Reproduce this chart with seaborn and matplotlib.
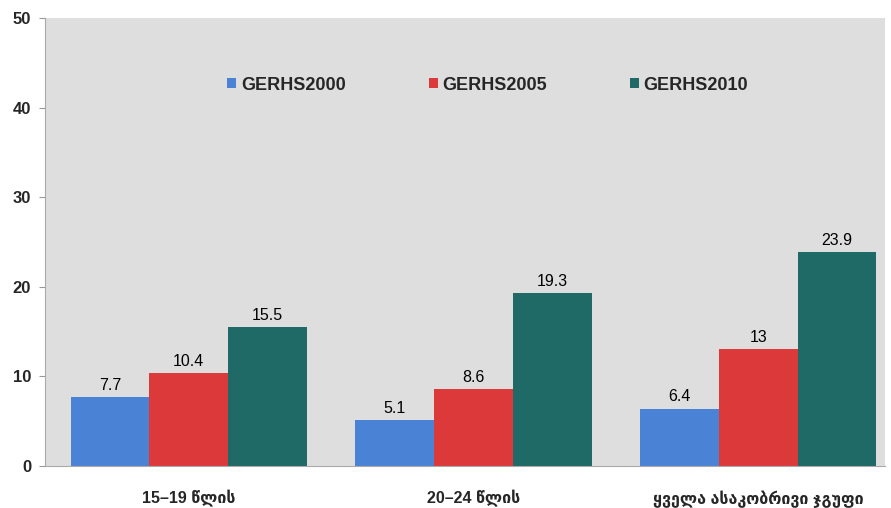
import pandas as pd
import seaborn as sns
import matplotlib.pyplot as plt

groups = ["15–19 წლის", "20–24 წლის", "ყველა ასაკობრივი ჯგუფი"]
series = ["GERHS2000", "GERHS2005", "GERHS2010"]
v2000 = [7.7, 5.1, 6.4]
v2005 = [10.4, 8.6, 13]
v2010 = [15.5, 19.3, 23.9]
colors = ["#4a82d6", "#dc3a3a", "#1f6a66"]

df = pd.DataFrame({
    "group": groups * 3,
    "survey": [s for s in series for _ in groups],
    "value": v2000 + v2005 + v2010,
})

sns.set_style("white")
plt.rcParams['font.family'] = ['Liberation Sans', 'DejaVu Sans']

fig = plt.figure(figsize=(8.91, 5.08), dpi=100)
ax = fig.add_axes([0.0505, 0.0827, 0.9428, 0.882])
ax.set_facecolor("#dedede")

sns.barplot(data=df, x="group", y="value", hue="survey", palette=colors,
            width=0.83, gap=0, saturation=1, edgecolor="none", ax=ax)

for cont in ax.containers:
    labels = [f"{v:g}" for v in cont.datavalues]
    ax.bar_label(cont, labels=labels, padding=3, fontsize=11.5, color="black")

ax.set_ylim(0, 50)
ax.set_xlim(-0.505, 2.445)
ax.set_yticks([0, 10, 20, 30, 40, 50])
ax.set_xlabel("")
ax.set_ylabel("")
for lab in ax.get_yticklabels():
    lab.set_fontweight("bold")
    lab.set_fontsize(12)
for lab in ax.get_xticklabels():
    lab.set_fontweight("bold")
    lab.set_fontsize(11.5)
ax.tick_params(axis="y", left=True, length=4, color="#999999", pad=6)
ax.tick_params(axis="x", bottom=False, pad=14)
for s in ["top", "right"]:
    ax.spines[s].set_visible(False)
ax.spines["left"].set_color("#aaaaaa")
ax.spines["bottom"].set_color("#aaaaaa")

leg = ax.legend(loc="upper center", bbox_to_anchor=(0.527, 0.905), ncol=3, frameon=False,
                columnspacing=4.6, handlelength=0.5, handleheight=0.5,
                handletextpad=0.25, fontsize=13)
for t in leg.get_texts():
    t.set_fontweight("bold")

fig.savefig("out.png", dpi=100)
